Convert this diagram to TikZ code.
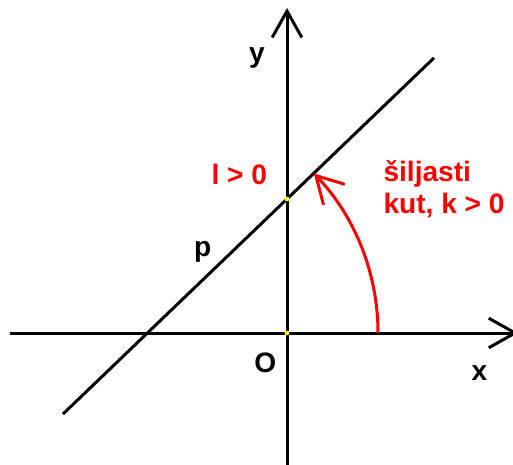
\documentclass[tikz,border=0pt]{standalone}
\usepackage{fontspec}
\setmainfont{Liberation Sans}
\usetikzlibrary{arrows.meta,calc}

\begin{document}
\begin{tikzpicture}[>={Straight Barb[length=0.66cm, width=0.74cm]}, line width=0.075cm,
    lab/.style={font=\fontsize{20}{22.7}\selectfont\bfseries, inner sep=0pt},
    redlab/.style={lab, text=red}]
    \useasboundingbox (-7.175, -3.275) rectangle (5.65, 8.325);

    % koordinatne osi
    \coordinate (O) at (0, 0);
    \coordinate (xl) at (-6.925, 0);
    \coordinate (xr) at (5.78, 0);
    \coordinate (yd) at (0, -3.3);
    \coordinate (yu) at (0, 8.125);
    \draw[->] (xl) -- (xr);
    \draw[->] (yd) -- (yu);
    \node[lab, anchor=base] (xlab) at (4.81, -1.175) {x};
    \node[lab, anchor=base] (ylab) at (-0.75, 6.75) {y};
    \node[lab, anchor=base] (Olab) at (-0.54, -0.975) {O};

    % pravac p
    \coordinate (P1) at (-5.6, -2.026);
    \coordinate (P2) at (3.675, 6.878);
    \draw (P1) -- (P2);
    \node[lab, anchor=base] (plab) at (-2.11, 1.925) {p};

    % sjecista s osima
    \coordinate (L) at (0, 3.35);
    \coordinate (N) at (-3.49, 0);
    \fill[yellow] (L) circle (0.06);
    \fill[yellow] (O) circle (0.06);
    \node[redlab, anchor=base west] (llab) at (-1.925, 3.725) {l > 0};

    % kut izmedu pravca i osi x
    \coordinate (A) at ($(N)+(5.765, 0)$);
    \draw[->, red] (A) arc[start angle=0, end angle=43.83, radius=5.765];
    \node[redlab, anchor=base west, align=left] (klab) at (2.375, 3.0) {šiljasti\\kut, k > 0};
\end{tikzpicture}
\end{document}
